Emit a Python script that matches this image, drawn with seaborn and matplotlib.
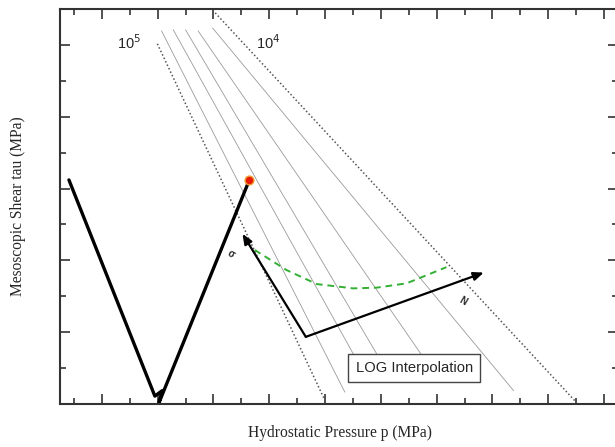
import matplotlib
matplotlib.use("Agg")
import matplotlib.pyplot as plt
import seaborn as sns
import pandas as pd
from matplotlib.ticker import MultipleLocator, NullFormatter

# ---------------- data ----------------
# iso-life boundary lines (dotted): 10^5 (left) and 10^4 (right)
dot_left_x = [3.99, 9.99]
dot_left_y = [10.03, 0.11]
dot_right_x = [5.97, 18.99]
dot_right_y = [10.97, 0.06]

# intermediate iso-lines (thin solid)
iso_x = [[4.14, 10.71], [4.56, 11.33], [5.00, 12.19], [5.45, 13.83], [5.97, 16.76]]
iso_y = [[10.39, 0.33], [10.42, 0.95], [10.42, 0.95], [10.39, 0.95], [10.47, 0.37]]

# loading path (thick black V)
path_x = [0.82, 3.90, 4.16, 4.05, 7.23]
path_y = [6.24, 0.22, 0.37, 0.04, 6.13]

# end point (red dot)
dot_x = [7.27]
dot_y = [6.24]

# green dashed interpolation curve
green_x = [7.48, 8.62, 9.70, 11.01, 11.85, 12.92, 14.35]
green_y = [4.29, 3.73, 3.34, 3.22, 3.24, 3.36, 3.81]

# local axes sigma / N
axes_origin = (9.31, 1.87)
sigma_tip = (7.04, 4.74)
n_tip = (15.69, 3.66)

# ---------------- figure ----------------
sns.set_style("white")
plt.rcParams["font.family"] = ["Liberation Sans", "DejaVu Sans"]

fig = plt.figure(figsize=(6.15, 4.47), dpi=100)
ax = fig.add_axes([60 / 615, 43 / 447, 558 / 615, 395 / 447])
ax.set_xlim(0.5, 20.5)
ax.set_ylim(0, 11)

thin = "#9a9a9a"
dotted = "#555555"

for xs, ys in zip(iso_x, iso_y):
    sns.lineplot(x=xs, y=ys, ax=ax, color=thin, lw=0.6, sort=False, estimator=None)

sns.lineplot(x=dot_left_x, y=dot_left_y, ax=ax, color=dotted, lw=1.1,
             linestyle=(0, (1, 1.5)), sort=False, estimator=None)
sns.lineplot(x=dot_right_x, y=dot_right_y, ax=ax, color=dotted, lw=1.1,
             linestyle=(0, (1, 1.5)), sort=False, estimator=None)

path_df = pd.DataFrame({"p": path_x, "tau": path_y})
sns.lineplot(data=path_df, x="p", y="tau", ax=ax, color="black", lw=2.4,
             sort=False, estimator=None)

sns.lineplot(x=green_x, y=green_y, ax=ax, color="#33b033", lw=1.4,
             linestyle=(0, (3.5, 2.5)), sort=False, estimator=None)

sns.scatterplot(x=dot_x, y=dot_y, ax=ax, color="#e81a0c", edgecolor="#f0a030",
                s=40, linewidth=1, zorder=5)

arrow_kw = dict(arrowstyle="-|>,head_length=0.6,head_width=0.25", color="black",
                lw=1.6, shrinkA=0, shrinkB=0)
ax.annotate("", xy=sigma_tip, xytext=axes_origin, arrowprops=arrow_kw)
ax.annotate("", xy=n_tip, xytext=axes_origin, arrowprops=arrow_kw)

ax.text(6.62, 4.17, "σ", fontsize=7, rotation=-30, ha="center", va="center",
        fontweight="bold")
ax.text(14.95, 2.87, "N", fontsize=7, rotation=-30, ha="center", va="center",
        fontweight="bold")

ax.text(2.97, 10.05, "10$^5$", fontsize=10.5, ha="center", va="center")
ax.text(7.97, 10.05, "10$^4$", fontsize=10.5, ha="center", va="center")

ax.text(13.2, 1.0, "LOG Interpolation", fontsize=10.6, ha="center", va="center",
        zorder=6,
        bbox=dict(boxstyle="square,pad=0.5", fc="white", ec="#444444", lw=1.0))

# ticks
ax.xaxis.set_major_locator(MultipleLocator(2))
ax.xaxis.set_minor_locator(MultipleLocator(1))
ax.yaxis.set_major_locator(MultipleLocator(2))
ax.yaxis.set_minor_locator(MultipleLocator(1))
ax.xaxis.set_major_formatter(NullFormatter())
ax.yaxis.set_major_formatter(NullFormatter())
ax.tick_params(which="both", direction="in", top=True, right=True,
               bottom=True, left=True, color="#333333", width=1.2)
ax.tick_params(which="major", length=7)
ax.tick_params(which="minor", length=4)
for s in ax.spines.values():
    s.set_color("#333333")
    s.set_linewidth(1.5)

ax.set_xlabel("Hydrostatic Pressure p (MPa)", family=["Liberation Serif"],
              fontsize=11.2)
ax.set_ylabel("Mesoscopic Shear tau (MPa)", family=["Liberation Serif"],
              fontsize=11.2)
ax.xaxis.set_label_coords((340 - 60) / 558, -(433 - 404) / 395)
ax.yaxis.set_label_coords(-(60 - 18) / 558, 0.5)
ax.xaxis.label.set_va("center")
ax.yaxis.label.set_va("center")

fig.savefig("out.png", dpi=100)
